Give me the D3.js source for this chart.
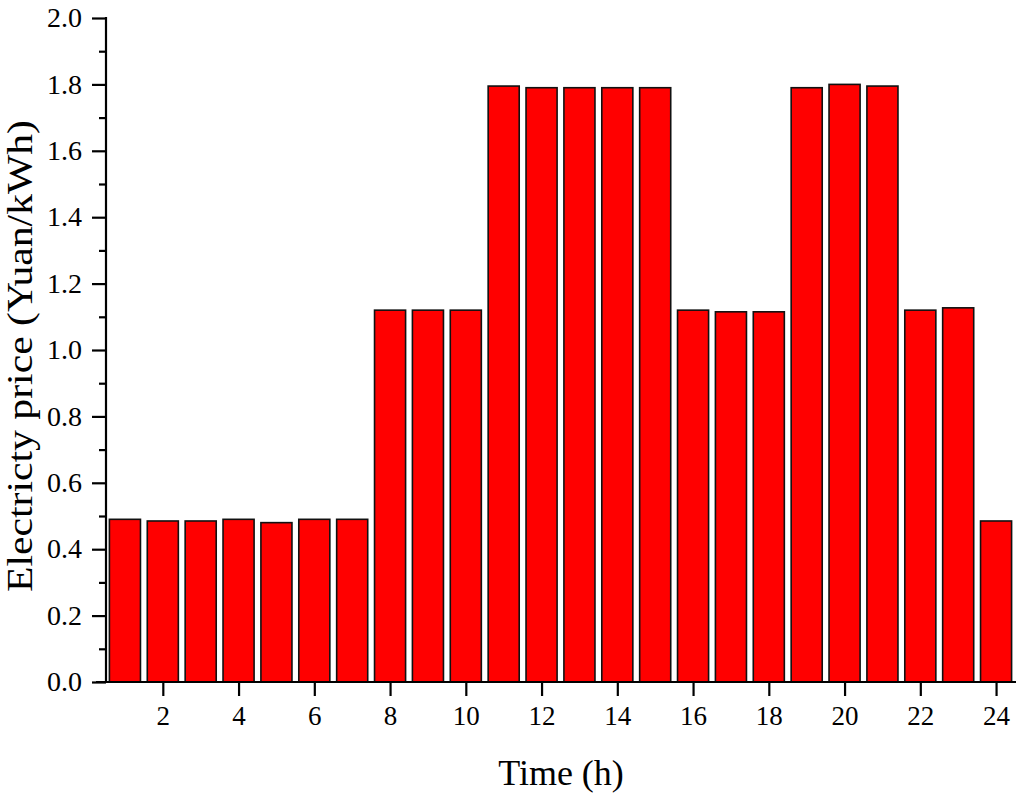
<!DOCTYPE html>
<html>
<head>
<meta charset="utf-8">
<script src="https://cdnjs.cloudflare.com/ajax/libs/d3/7.8.5/d3.min.js"></script>
<style>
	body { margin: 0; background: #fff; }
	text { font-family: "Liberation Serif", "Times New Roman", serif; fill: #000; }
</style>
</head>
<body>
<svg id="chart" width="1024" height="802"></svg>
<script>
var hours = d3.range(1, 25);
var prices = [0.49, 0.485, 0.485, 0.49, 0.48, 0.49, 0.49,
	1.12, 1.12, 1.12, 1.795, 1.79, 1.79, 1.79, 1.79,
	1.12, 1.115, 1.115, 1.79, 1.80, 1.795, 1.12, 1.127, 0.485];
var xTicks = [2, 4, 6, 8, 10, 12, 14, 16, 18, 20, 22, 24];
var yTicks = [0, 0.2, 0.4, 0.6, 0.8, 1.0, 1.2, 1.4, 1.6, 1.8, 2.0];
var yMinor = [0.1, 0.3, 0.5, 0.7, 0.9, 1.1, 1.3, 1.5, 1.7, 1.9];

var svg = d3.select('#chart');
var mLeft = 106, mRight = 1016, mTop = 18, mBottom = 682;

var x = d3.scaleLinear().domain([0.5, 24.5]).range([mLeft, mRight - 1]);
var y = d3.scaleLinear().domain([0, 2]).range([mBottom, mTop]);
var barW = (x(1) - x(0)) * 0.82;

var data = hours.map(function(h, i){ return {hour: h, price: prices[i]}; });

//bars
svg.append('g').selectAll('rect')
	.data(data)
	.enter().append('rect')
	.attr('x', function(d){ return x(d.hour) - barW / 2; })
	.attr('y', function(d){ return y(d.price); })
	.attr('width', barW)
	.attr('height', function(d){ return y(0) - y(d.price); })
	.attr('fill', '#ff0000')
	.attr('stroke', '#111')
	.attr('stroke-width', 1.6);

//y axis
var yAxis = svg.append('g')
	.attr('transform', 'translate(' + mLeft + ',0)')
	.call(d3.axisLeft(y).tickValues(yTicks).tickSize(14).tickPadding(10)
		.tickFormat(d3.format('.1f')));
svg.append('g')
	.attr('transform', 'translate(' + mLeft + ',0)')
	.call(d3.axisLeft(y).tickValues(yMinor).tickSize(7).tickFormat(''))
	.select('.domain').remove();

//x axis
var xAxis = svg.append('g')
	.attr('transform', 'translate(0,' + mBottom + ')')
	.call(d3.axisBottom(x).tickValues(xTicks).tickSize(14).tickPadding(10)
		.tickFormat(d3.format('d')));
xAxis.select('.domain').attr('d', 'M' + (mLeft - 10) + ',0H' + mRight);

svg.selectAll('.domain, .tick line')
	.attr('stroke', '#000')
	.attr('stroke-width', 2.2);
svg.selectAll('.tick text')
	.style('font-family', '"Liberation Serif", serif')
	.style('font-size', '27px');
yAxis.selectAll('.tick text')
	.attr('textLength', 35)
	.attr('lengthAdjust', 'spacingAndGlyphs');
yAxis.select('.domain').attr('d', 'M0,' + (mTop - 1) + 'V' + mBottom);

//titles
svg.append('text')
	.attr('x', (mLeft + mRight) / 2)
	.attr('y', 785)
	.attr('text-anchor', 'middle')
	.style('font-size', '36px')
	.text('Time (h)');

svg.append('text')
	.attr('transform', 'translate(32,356) rotate(-90)')
	.attr('text-anchor', 'middle')
	.attr('textLength', 472)
	.attr('lengthAdjust', 'spacingAndGlyphs')
	.style('font-size', '36px')
	.text('Electricty price (Yuan/kWh)');
</script>
</body>
</html>
